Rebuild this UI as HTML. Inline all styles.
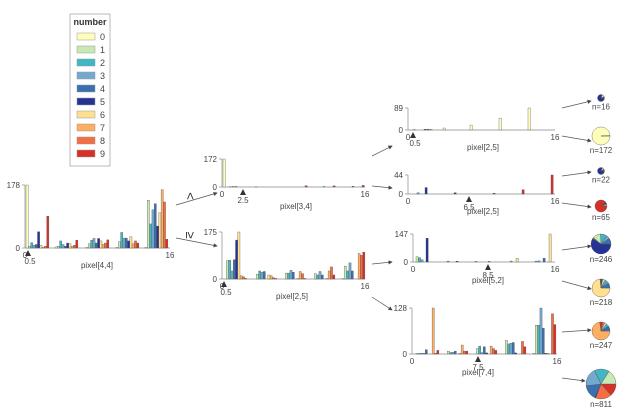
<!DOCTYPE html>
<html><head><meta charset="utf-8"><style>
html,body{margin:0;padding:0;background:#fff;}
svg{display:block;font-family:"Liberation Sans","DejaVu Sans",sans-serif;}
text{fill:#444;font-size:8px;}
</style></head><body>
<svg id="s" width="624" height="414" viewBox="0 0 624 414" xmlns="http://www.w3.org/2000/svg">
<defs><marker id="ar" markerWidth="6" markerHeight="6" refX="5" refY="3" orient="auto"><path d="M0,0 L6,3 L0,6 z" fill="#444"/></marker></defs>
<g id="g"></g>
</svg>
<script>
const C=["#fefebb","#c7e9b4","#41b6c4","#74a9cf","#3a6fb0","#253494","#fee090","#fdae61","#f46d43","#d73027"];
const g=document.getElementById('g');let h='';
function T(x,y,t,a,extra){h+=`<text x="${x}" y="${y}" text-anchor="${a||'middle'}" ${extra||''}>${t}</text>`;}
function panel(p){
 const {x0,x1,base,top,max}=p;
 h+=`<line x1="${x0}" y1="${top}" x2="${x0}" y2="${base}" stroke="#888" stroke-width="0.7"/>`;
 h+=`<line x1="${x0}" y1="${base}" x2="${x1}" y2="${base}" stroke="#888" stroke-width="0.7"/>`;
 h+=`<line x1="${x0-3}" y1="${top}" x2="${x0}" y2="${top}" stroke="#888" stroke-width="0.7"/>`;
 h+=`<line x1="${x0-3}" y1="${base}" x2="${x0}" y2="${base}" stroke="#888" stroke-width="0.7"/>`;
 T(x0-5,top+3,max,'end');T(x0-5,base+3,'0','end');
 T(x0,base+10,'0');T(x1,base+10,'16');
 const sc=(base-top)/max;
 for(const b of p.bars){const [x,c,v,w]=b;const hh=v*sc;
  h+=`<rect x="${x}" y="${base-hh}" width="${w||2.2}" height="${hh}" fill="${C[c]}" stroke="#555" stroke-width="0.35"/>`;}
 const tx=p.tri;h+=`<path d="M${tx-3},${base+8} L${tx},${base+2} L${tx+3},${base+8} z" fill="#333"/>`;
 T(tx+(p.toff||0),base+16,p.split);
 T(p.lx,p.ly,p.label);
}
function grp(x,vals,w){w=w||2.3;return vals.map((v,i)=>[x+i*w,i,v,w*0.95]);}
panel({x0:25,x1:170,base:248,top:185,max:178,tri:28,split:'0.5',toff:2,lx:97,ly:268,label:'pixel[4,4]',
 bars:[].concat(grp(26,[178,5,15,8,10,46,8,2,5,90]),grp(55,[3,5,20,10,5,14,12,5,8,22]),grp(86,[2,12,22,27,14,27,20,10,14,23]),grp(116,[2,18,44,28,28,20,32,12,20,14]),grp(145,[2,135,68,108,125,62,100,165,130,25]))});
panel({x0:222,x1:365,base:187,top:159,max:172,tri:243,split:'2.5',lx:296,ly:209,label:'pixel[3,4]',
 bars:[[223,0,172,2.3],[229,4,2],[232,5,3],[235,5,3],[255,4,1],[305,9,8,2.3],[323,5,3,2],[333,9,7,2.3],[352,5,4,2],[362,9,10,2.3]]});
panel({x0:222,x1:365,base:279,top:232,max:175,tri:224,split:'0.5',toff:2,lx:292,ly:299,label:'pixel[2,5]',
 bars:[].concat(grp(224,[0,68,70,30,72,145,175,12,8,2]),grp(254,[0,18,30,25,28,0,15,12,5,2]),grp(283,[0,22,22,32,25,0,2,28,20,2]),grp(312,[0,20,15,28,15,0,2,30,45,15]),grp(342,[2,48,30,60,30,0,0,95,88,100]))});
panel({x0:408,x1:555,base:130,top:108,max:89,tri:413,split:'0.5',toff:2,lx:483,ly:150,label:'pixel[2,5]',
 bars:[[413,0,2],[424,5,3],[427,5,3],[430,4,2],[443,0,8],[470,0,20],[499,0,48],[528,0,89]]});
panel({x0:408,x1:555,base:194,top:175,max:44,tri:469,split:'6.5',lx:483,ly:214,label:'pixel[2,5]',
 bars:[[417,2,3],[425,5,15],[454,5,3],[493,9,2],[522,9,10],[551,9,44]]});
panel({x0:413,x1:555,base:262,top:234,max:147,tri:488,split:'8.5',lx:488,ly:283,label:'pixel[5,2]',
 bars:[[416,1,28],[418.5,2,22],[421,3,12],[426,5,125],[447,2,5],[456,5,4],[475,2,3],[488,5,3],[510,3,5],[516,6,20],[535,2,5],[538,3,6],[543,4,20],[549,6,147]]});
panel({x0:412,x1:557,base:354,top:308,max:128,tri:478,split:'7.5',lx:478,ly:375,label:'pixel[7,4]',
 bars:[].concat(grp(416,[2,2,2,2,12,0,0,128,2,10]),grp(445,[0,8,4,5,8,0,2,25,8,8]),grp(474,[0,15,22,4,20,3,0,22,15,10]),grp(503,[0,38,28,30,32,3,0,0,35,20]),grp(533,[2,80,80,128,72,2,2,0,112,82]))});
const A=[[176,205,217,193],[176,238,217,246],[372,156,392,146],[372,186,392,188],[372,264,392,262],[372,297,392,310],
[562,108,591,101],[562,136,591,141],[562,176,591,172],[562,203,591,207],[562,250,591,246],[562,281,591,289],[562,332,591,330],[562,378,585,381]];
for(const a of A)h+=`<line x1="${a[0]}" y1="${a[1]}" x2="${a[2]}" y2="${a[3]}" stroke="#555" stroke-width="0.7" marker-end="url(#ar)"/>`;
h+=`<text x="0" y="0" style="font-size:13px;fill:#333" text-anchor="middle" transform="translate(186 196) rotate(90)">&lt;</text>`;
h+=`<text x="0" y="0" style="font-size:13px;fill:#333" text-anchor="middle" transform="translate(186 235) rotate(90)">≥</text>`;
function pie(cx,cy,r,parts,n){let tot=parts.reduce((s,p)=>s+p[1],0),a=0;
 for(const [c,v] of parts){const b=a+2*Math.PI*v/tot;
  if(v/tot>0.999){h+=`<circle cx="${cx}" cy="${cy}" r="${r}" fill="${C[c]}" stroke="#555" stroke-width="0.5"/>`;}
  else{const la=(b-a)>Math.PI?1:0;h+=`<path d="M${cx},${cy} L${cx+r*Math.cos(a)},${cy+r*Math.sin(a)} A${r},${r} 0 ${la} 1 ${cx+r*Math.cos(b)},${cy+r*Math.sin(b)} z" fill="${C[c]}" stroke="#555" stroke-width="0.4"/>`;}
  a=b;}
 T(cx,cy+r+8,'n='+n);}
pie(601,98,3.5,[[5,13],[6,2],[4,1]],16);
pie(601,136,9,[[0,171],[5,1]],172);
pie(601,171,3.5,[[5,18],[6,2],[9,2]],22);
pie(601,206,6,[[9,58],[5,3],[8,2],[6,2]],65);
pie(601,244,10,[[5,125],[9,2],[6,2],[1,28],[2,22],[3,12],[4,20]],246);
pie(601,288,9,[[6,160],[9,5],[5,5],[1,10],[3,8],[2,10],[4,20]],218);
pie(601,331,9,[[7,180],[9,12],[8,10],[1,10],[2,12],[4,23]],247);
pie(601,384,15,[[9,110],[8,140],[5,10],[4,130],[3,161],[2,130],[1,130]],811);
h+=`<rect x="70" y="14" width="40" height="152" fill="#fff" stroke="#aaa" stroke-width="0.8"/>`;
h+=`<text x="90" y="25" style="font-size:9px;font-weight:bold;fill:#333" text-anchor="middle">number</text>`;
for(let i=0;i<10;i++){const y=33+13*i;h+=`<rect x="77" y="${y}" width="18" height="7" fill="${C[i]}" stroke="#999" stroke-width="0.5"/>`;T(100,y+7,i,'start','style="font-size:9px"');}
g.innerHTML=h;
</script>
</body></html>
